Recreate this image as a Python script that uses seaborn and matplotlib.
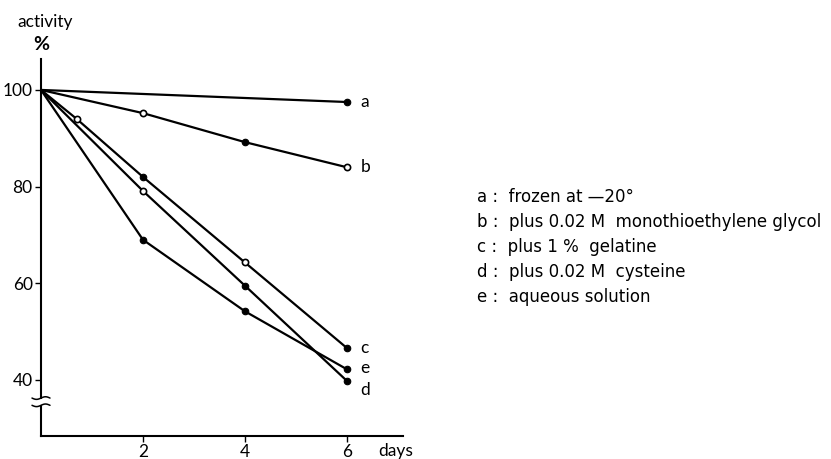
import numpy as np
import pandas as pd
import matplotlib
matplotlib.use('Agg')
import matplotlib.pyplot as plt
import seaborn as sns

# data
days_a = [0, 6]
act_a = [100, 97.5]
open_a = [False, False]

days_b = [0, 2, 4, 6]
act_b = [100, 95.2, 89.2, 84]
open_b = [False, True, False, True]

days_c = [0, 0.7, 2, 4, 6]
act_c = [100, 94, 82, 64.3, 46.6]
open_c = [False, True, False, True, False]

days_d = [0, 2, 4, 6]
act_d = [100, 79.1, 59.5, 39.8]
open_d = [False, True, False, False]

days_e = [0, 2, 4, 6]
act_e = [100, 69, 54.2, 42.2]
open_e = [False, False, False, False]

labels = ['a', 'b', 'c', 'd', 'e']
legend_text = ['a :  frozen at \u201420\u00b0',
               'b :  plus 0.02 M  monothioethylene glycol',
               'c :  plus 1 %  gelatine',
               'd :  plus 0.02 M  cysteine',
               'e :  aqueous solution']
x_ticks = [2, 4, 6]
y_ticks = [40, 60, 80, 100]

series = [(days_a, act_a, open_a), (days_b, act_b, open_b),
          (days_c, act_c, open_c), (days_d, act_d, open_d),
          (days_e, act_e, open_e)]

sns.set_style('white')
plt.rcParams['font.family'] = ['Lato', 'DejaVu Sans']
plt.rcParams['text.color'] = 'black'
plt.rcParams['xtick.color'] = 'black'
plt.rcParams['ytick.color'] = 'black'

fig = plt.figure(figsize=(8.31, 4.59), dpi=100)
ax = fig.add_axes([41/831, 1-436/459, (403-41)/831, (436-59)/459])

for (d, a, o), lab in zip(series, labels):
    df = pd.DataFrame({'day': d, 'act': a, 'open': o})
    sns.lineplot(data=df, x='day', y='act', color='black', linewidth=1.6,
                 ax=ax, legend=False)
    pts = df[df['day'] > 0]
    filled = pts[~pts['open']]
    hollow = pts[pts['open']]
    sns.scatterplot(data=filled, x='day', y='act', color='black', s=22,
                    edgecolor='black', linewidth=0.8, ax=ax, legend=False, zorder=3)
    sns.scatterplot(data=hollow, x='day', y='act', color='white', s=20,
                    edgecolor='black', linewidth=1.2, ax=ax, legend=False, zorder=3)

# end labels
label_pos = {'a': 97.5, 'b': 84, 'c': 46.6, 'e': 42.4, 'd': 38.0}
for lab in labels:
    ax.text(6.27, label_pos[lab], lab, fontsize=12.5, ha='left', va='center')

ax.set_xlim(0, 7.1)
ax.set_ylim(28.4, 106.4)
ax.set_xticks(x_ticks)
ax.set_yticks(y_ticks)
ax.tick_params(axis='both', labelsize=12.5, length=4, width=1, direction='out',
               left=True, bottom=True, pad=2, colors='black')
ax.set_xlabel('')
ax.set_ylabel('')
for side in ['top', 'right']:
    ax.spines[side].set_visible(False)
for side in ['left', 'bottom']:
    ax.spines[side].set_linewidth(1.5)
    ax.spines[side].set_color('black')

ax.text(6.95, 28.4 - 3.2, 'days', fontsize=12.5, ha='center', va='center')

# axis break mark (two small waves across the y axis)
ax.add_patch(plt.Rectangle((-0.06, 34.9), 0.12, 1.2, facecolor='white',
                           edgecolor='none', clip_on=False, zorder=4))
wx = np.linspace(-9, 9, 40)
for off in (-0.75, 0.75):
    wy = 35.5 + off + 1.3 * np.sin(wx / 9 * np.pi) / 4.83
    ax.plot(wx / 51, wy, color='black', linewidth=1.1, clip_on=False, zorder=5)

fig.text(45/831, 1-22/459, 'activity', fontsize=12.5, ha='center', va='center')
fig.text(41/831, 1-45/459, '%', fontsize=14, fontweight='bold', ha='center', va='center')

for i, t in enumerate(legend_text):
    fig.text(477/831, 1-(197 + 25*i)/459, t, fontsize=12, ha='left', va='center',
             family=['DejaVu Sans'])

fig.savefig('out.png', dpi=100)
